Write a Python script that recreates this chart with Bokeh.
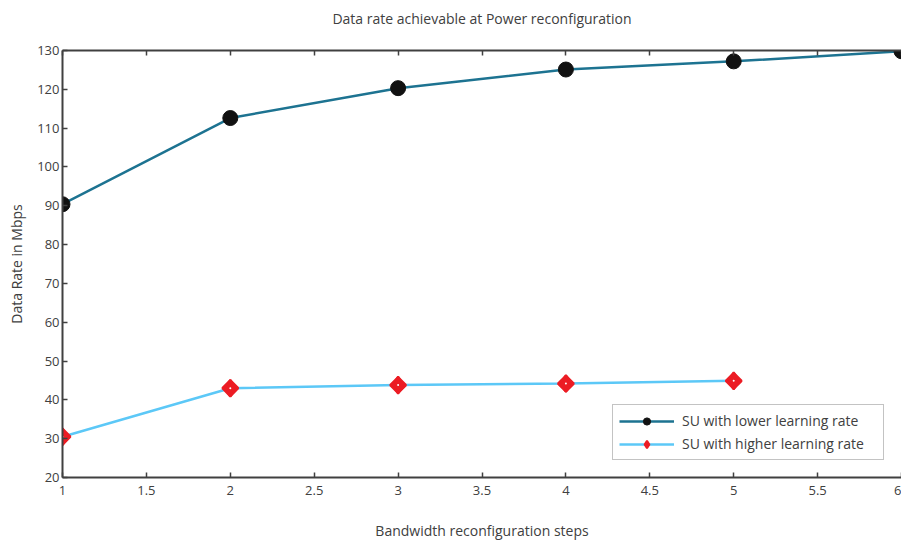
from bokeh.plotting import figure
from bokeh.models import Range1d, FixedTicker, LinearAxis, Legend, LegendItem, Title
from bokeh.embed import file_html
from bokeh.resources import INLINE
import math

steps_low = [1, 2, 3, 4, 5, 6]
rate_low = [90.4, 112.6, 120.3, 125.1, 127.2, 129.8]
steps_high = [1, 2, 3, 4, 5]
rate_high = [30.5, 43.0, 43.8, 44.2, 44.9]

x_ticks = [1, 1.5, 2, 2.5, 3, 3.5, 4, 4.5, 5, 5.5, 6]
x_tick_labels = ["1", "1.5", "2", "2.5", "3", "3.5", "4", "4.5", "5", "5.5", "6"]
y_ticks = [20, 30, 40, 50, 60, 70, 80, 90, 100, 110, 120, 130]

FONT = "Open Sans"
TXT = "#404040"

p = figure(width=901, height=542, output_backend="svg", toolbar_location=None,
           x_range=Range1d(1, 6), y_range=Range1d(20, 130),
           min_border_left=62, min_border_right=0, min_border_top=50, min_border_bottom=64,
           x_axis_location=None, y_axis_location=None)
p.outline_line_color = None
p.xgrid.visible = False
p.ygrid.visible = False
p.background_fill_color = "white"
p.border_fill_color = "white"

p.title.text = "Data rate achievable at Power reconfiguration"
p.title.align = "center"
p.title.text_font = FONT
p.title.text_font_size = "14px"
p.title.text_font_style = "normal"
p.title.text_color = TXT
p.title.standoff = 3

def style(ax, labels=True):
    ax.axis_line_color = TXT
    ax.axis_line_width = 2
    ax.major_tick_in = 5
    ax.major_tick_out = 0
    ax.minor_tick_in = 0
    ax.minor_tick_out = 0
    ax.major_tick_line_color = TXT
    ax.major_tick_line_width = 1.5
    ax.major_label_text_font = FONT
    ax.major_label_text_font_size = "13px"
    ax.major_label_text_color = TXT if labels else None
    ax.axis_label_text_font = FONT
    ax.axis_label_text_font_size = "14px"
    ax.axis_label_text_font_style = "normal"
    ax.axis_label_text_color = TXT

xb = LinearAxis(ticker=FixedTicker(ticks=x_ticks), axis_label="Bandwidth reconfiguration steps")
xb.major_label_overrides = {t: l for t, l in zip(x_ticks, x_tick_labels)}
style(xb)
xb.major_label_standoff = 8
xb.axis_label_standoff = 23
p.add_layout(xb, "below")

yl = LinearAxis(ticker=FixedTicker(ticks=y_ticks), axis_label="Data Rate in Mbps")
style(yl)
yl.major_label_standoff = 3
yl.axis_label_standoff = 8
p.add_layout(yl, "left")

xt = LinearAxis(ticker=FixedTicker(ticks=x_ticks))
style(xt, labels=False)
xt.major_label_standoff = 4
p.add_layout(xt, "above")

spacer = Title(text=" ", text_font=FONT, text_font_size="14px", standoff=0)
p.add_layout(spacer, "above")

l1 = p.line(steps_low, rate_low, line_color="#1d7391", line_width=2.5)
c1 = p.scatter(steps_low, rate_low, marker="circle", size=15, fill_color="#111111", line_color="#111111")
l2 = p.line(steps_high, rate_high, line_color="#5cc8f7", line_width=2.5)
c2 = p.scatter(steps_high, rate_high, marker="diamond", size=17,
               fill_color="#ec1c24", line_color="#ec1c24", line_width=2)
p.scatter(steps_high, rate_high, marker="square", angle=math.pi / 4, size=11,
          fill_color="#ec1c24", line_color="#ec1c24", line_width=2.5)
p.scatter(steps_high, rate_high, marker="circle", size=2, fill_color="white", line_color=None)

legend = Legend(items=[LegendItem(label="SU with lower learning rate", renderers=[l1, c1]),
                       LegendItem(label="SU with higher learning rate", renderers=[l2, c2])],
                location="bottom_right")
legend.margin = 17
legend.padding = 6
legend.spacing = 4
legend.glyph_width = 55
legend.glyph_height = 18
legend.label_width = 195
legend.label_standoff = 8
legend.label_text_font = FONT
legend.label_text_font_size = "14px"
legend.label_text_color = TXT
legend.border_line_color = "#888888"
legend.border_line_width = 1
legend.background_fill_alpha = 1
p.add_layout(legend, "center")

open("out.html", "w").write(file_html(p, INLINE))
